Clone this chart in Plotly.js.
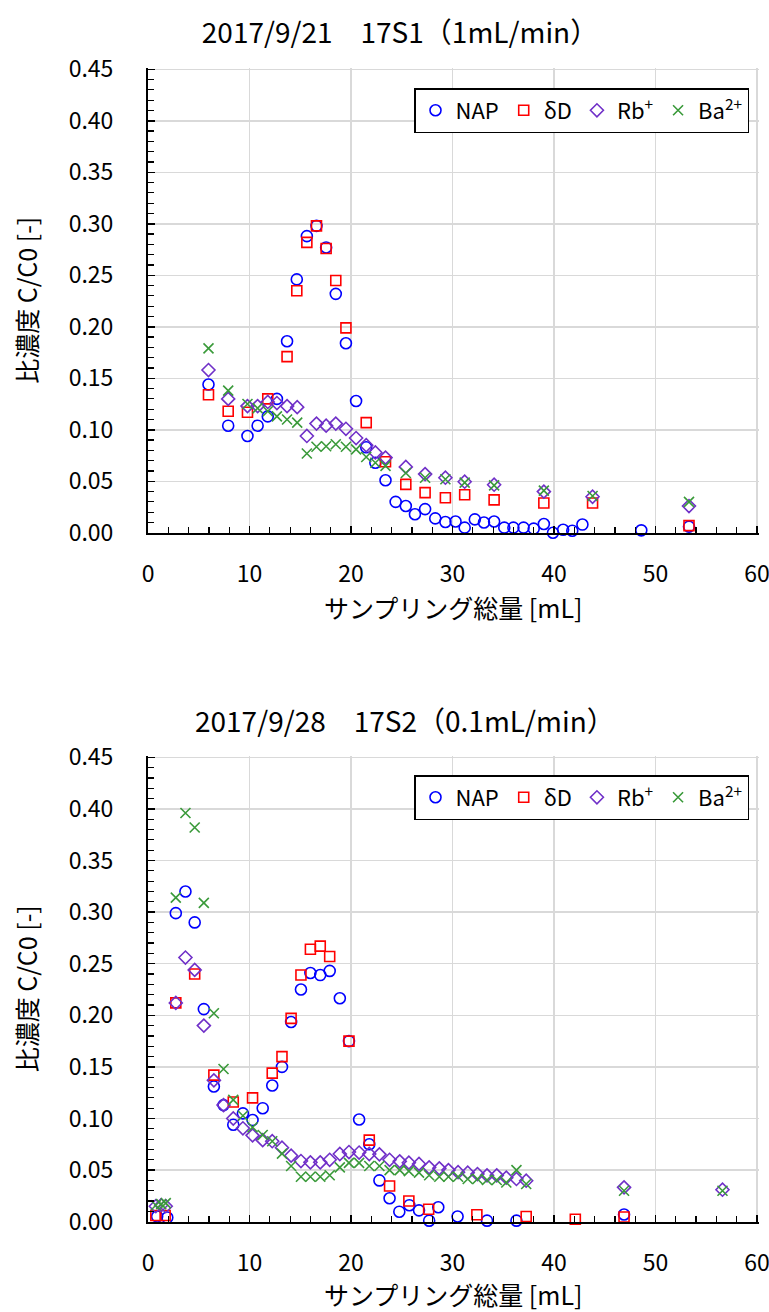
<!DOCTYPE html>
<html>
<head>
<meta charset="utf-8">
<script src="https://cdn.plot.ly/plotly-3.0.1.min.js"></script>
<style>html,body{margin:0;padding:0;background:#fff;}#chart{width:769px;height:1312px;}</style>
</head>
<body>
<div id="chart"></div>
<script>
// ---------- Chart 1: 2017/9/21 17S1 (1mL/min) ----------
const s1_nap_x = [5.96, 7.9, 9.8, 10.8, 11.8, 12.7, 13.7, 14.66, 15.65, 16.6, 17.55, 18.5, 19.5, 20.5, 21.5, 22.4, 23.4, 24.4, 25.4, 26.3, 27.3, 28.3, 29.3, 30.3, 31.2, 32.2, 33.1, 34.1, 35.1, 36.0, 37.0, 38.0, 39.0, 39.9, 40.9, 41.8, 42.8, 48.6, 53.3];
const s1_nap_y = [0.144, 0.104, 0.094, 0.104, 0.113, 0.130, 0.186, 0.246, 0.288, 0.298, 0.277, 0.232, 0.184, 0.128, 0.083, 0.068, 0.051, 0.030, 0.026, 0.018, 0.023, 0.014, 0.0105, 0.011, 0.005, 0.013, 0.010, 0.011, 0.005, 0.005, 0.005, 0.004, 0.0085, 0.0, 0.003, 0.002, 0.008, 0.0024, 0.006];
const s1_dd_x = [5.96, 7.9, 9.8, 11.8, 13.7, 14.66, 15.65, 16.6, 17.55, 18.5, 19.5, 21.5, 23.4, 25.4, 27.3, 29.3, 31.2, 34.1, 39.0, 43.8, 53.3];
const s1_dd_y = [0.134, 0.118, 0.117, 0.130, 0.171, 0.235, 0.282, 0.298, 0.276, 0.245, 0.199, 0.107, 0.069, 0.047, 0.039, 0.034, 0.037, 0.032, 0.029, 0.029, 0.007];
const s1_ion_x = [5.96, 7.9, 9.8, 10.8, 11.8, 12.7, 13.7, 14.7, 15.65, 16.6, 17.55, 18.5, 19.5, 20.5, 21.5, 22.4, 23.4, 25.4, 27.3, 29.3, 31.2, 34.1, 39.0, 43.8, 53.3];
const s1_rb_y = [0.158, 0.130, 0.123, 0.123, 0.127, 0.126, 0.123, 0.122, 0.094, 0.106, 0.104, 0.106, 0.101, 0.092, 0.085, 0.078, 0.073, 0.064, 0.057, 0.0535, 0.0496, 0.0467, 0.040, 0.035, 0.026];
const s1_ba_y = [0.179, 0.138, 0.125, 0.121, 0.118, 0.113, 0.110, 0.107, 0.077, 0.0836, 0.084, 0.086, 0.0836, 0.081, 0.0736, 0.068, 0.065, 0.058, 0.0535, 0.052, 0.0487, 0.046, 0.041, 0.0357, 0.030];

// ---------- Chart 2: 2017/9/28 17S2 (0.1mL/min) ----------
const s2_nap_x = [0.9, 1.9, 2.74, 3.69, 4.6, 5.5, 6.49, 7.44, 8.4, 9.35, 10.3, 11.3, 12.24, 13.2, 14.1, 15.07, 16.0, 16.97, 17.9, 18.9, 19.8, 20.8, 21.8, 22.8, 23.8, 24.76, 25.75, 26.7, 27.7, 28.6, 30.5, 33.4, 36.3, 46.9];
const s2_nap_y = [0.005, 0.004, 0.299, 0.320, 0.290, 0.206, 0.131, 0.113, 0.094, 0.105, 0.0985, 0.110, 0.132, 0.150, 0.1935, 0.225, 0.241, 0.239, 0.243, 0.2165, 0.175, 0.099, 0.075, 0.040, 0.0227, 0.0097, 0.016, 0.011, 0.001, 0.014, 0.005, 0.001, 0.001, 0.007];
const s2_dd_x = [0.77, 1.69, 2.74, 4.6, 6.49, 8.4, 10.3, 12.24, 13.2, 14.1, 15.07, 16.0, 16.97, 17.9, 19.8, 21.8, 23.8, 25.7, 27.65, 32.4, 37.26, 42.1, 46.9];
const s2_dd_y = [0.006, 0.006, 0.212, 0.240, 0.142, 0.116, 0.120, 0.144, 0.160, 0.197, 0.239, 0.264, 0.267, 0.257, 0.175, 0.079, 0.0346, 0.020, 0.012, 0.0068, 0.005, 0.0023, 0.0046];
const s2_ion_x = [0.77, 1.3, 1.75, 2.74, 3.69, 4.6, 5.5, 6.49, 7.44, 8.4, 9.35, 10.3, 11.3, 12.24, 13.2, 14.1, 15.07, 16.0, 16.97, 17.9, 18.9, 19.8, 20.8, 21.8, 22.8, 23.8, 24.8, 25.7, 26.7, 27.7, 28.7, 29.6, 30.55, 31.5, 32.46, 33.4, 34.36, 35.3, 36.3, 37.26, 46.9, 56.6];
const s2_rb_y = [0.015, 0.016, 0.015, 0.212, 0.256, 0.244, 0.190, 0.137, 0.113, 0.100, 0.0905, 0.0837, 0.079, 0.078, 0.0717, 0.064, 0.0588, 0.0575, 0.0575, 0.060, 0.0656, 0.0675, 0.067, 0.0656, 0.0653, 0.060, 0.0585, 0.0572, 0.056, 0.0527, 0.0517, 0.050, 0.048, 0.0475, 0.0462, 0.0449, 0.0449, 0.0427, 0.0414, 0.0397, 0.0333, 0.031];
const s2_ba_y = [0.016, 0.017, 0.018, 0.314, 0.396, 0.382, 0.309, 0.202, 0.148, 0.118, 0.1027, 0.0915, 0.084, 0.078, 0.066, 0.054, 0.0436, 0.0436, 0.0436, 0.045, 0.0527, 0.057, 0.057, 0.054, 0.054, 0.050, 0.050, 0.049, 0.0475, 0.045, 0.0436, 0.0436, 0.0436, 0.0414, 0.0414, 0.0404, 0.0404, 0.038, 0.050, 0.0365, 0.030, 0.030];

const seriesNames = ['NAP', 'δD', 'Rb<sup>+</sup>', 'Ba<sup>2+</sup>'];
const chartTitles = ['2017/9/21\u300017S1（1mL/min）', '2017/9/28\u300017S2（0.1mL/min）'];
const xTitle = 'サンプリング総量 [mL]';
const yTitle = '比濃度 C/C0 [-]';
const xTickVals = [0, 10, 20, 30, 40, 50, 60];

const FONT = "'Noto Sans CJK JP', 'Noto Sans', sans-serif";
const colors = ['#0000FF', '#FF0000', '#7030C8', '#3A9A3A'];
const symbols = ['circle-open', 'square-open', 'diamond-open', 'x-thin-open'];
const sizes = [11, 10, 10, 10];

function mk(x, y, i, xa, ya, leg) {
  return {
    type: 'scatter', mode: 'markers', x: x, y: y, name: seriesNames[i],
    xaxis: xa, yaxis: ya, legend: leg, cliponaxis: false,
    marker: {symbol: symbols[i], size: sizes[i], color: colors[i],
             line: {color: colors[i], width: 1.6}}
  };
}

const data = [
  mk(s1_nap_x, s1_nap_y, 0, 'x', 'y', 'legend'),
  mk(s1_dd_x, s1_dd_y, 1, 'x', 'y', 'legend'),
  mk(s1_ion_x, s1_rb_y, 2, 'x', 'y', 'legend'),
  mk(s1_ion_x, s1_ba_y, 3, 'x', 'y', 'legend'),
  mk(s2_nap_x, s2_nap_y, 0, 'x2', 'y2', 'legend2'),
  mk(s2_dd_x, s2_dd_y, 1, 'x2', 'y2', 'legend2'),
  mk(s2_ion_x, s2_rb_y, 2, 'x2', 'y2', 'legend2'),
  mk(s2_ion_x, s2_ba_y, 3, 'x2', 'y2', 'legend2')
];

const W = 769, H = 1312;
// small padding beyond 60 / 0.45 so the last grid lines are kept
const XMAX = 60.15, YMAX = 0.4515;
const xDom = [148 / W, (148 + 609 * XMAX / 60) / W];
function yDom(top, bottom) {
  const t = bottom - (bottom - top) * YMAX / 0.45;
  return [1 - bottom / H, 1 - t / H];
}

function xAxis(anchor) {
  return {
    anchor: anchor, domain: xDom, range: [0, XMAX],
    tickmode: 'array', tickvals: xTickVals, ticktext: xTickVals.map(String),
    ticklabeloverflow: 'allow',
    ticks: 'inside', ticklen: 7, tickwidth: 1.5, tickcolor: '#000',
    minor: {tickmode: 'linear', tick0: 0, dtick: 2, ticks: 'inside', ticklen: 6, tickwidth: 1.2, tickcolor: '#000', showgrid: false},
    showgrid: true, gridcolor: '#d9d9d9', gridwidth: 1.5,
    showline: true, linecolor: '#000', linewidth: 2, zeroline: false,
    ticklabelstandoff: 20,
    tickfont: {family: FONT, size: 23, color: '#000'},
    title: {text: xTitle, font: {family: FONT, size: 25, color: '#000'}, standoff: 8}
  };
}
function yAxis(anchor, dom) {
  return {
    anchor: anchor, domain: dom, range: [0, YMAX], dtick: 0.05, tick0: 0,
    tickformat: '.2f', ticklabeloverflow: 'allow',
    ticks: 'inside', ticklen: 7, tickwidth: 1.5, tickcolor: '#000',
    minor: {dtick: 0.01, ticks: 'inside', ticklen: 6, tickwidth: 1.2, tickcolor: '#000', showgrid: false},
    showgrid: true, gridcolor: '#d9d9d9', gridwidth: 1.5,
    showline: true, linecolor: '#000', linewidth: 2, zeroline: false,
    ticklabelstandoff: 28,
    tickfont: {family: FONT, size: 23, color: '#000'},
    title: {text: yTitle, font: {family: FONT, size: 25, color: '#000'}, standoff: 24}
  };
}
function legendCfg(topPx) {
  return {
    orientation: 'h', x: 414 / W, y: 1 - topPx / H, xanchor: 'left', yanchor: 'top',
    bgcolor: '#fff', bordercolor: '#000', borderwidth: 1.5,
    font: {family: FONT, size: 22, color: '#000'},
    itemwidth: 30, tracegroupgap: 0
  };
}

const layout = {
  width: W, height: H, margin: {l: 0, r: 0, t: 0, b: 0},
  paper_bgcolor: '#fff', plot_bgcolor: '#fff',
  font: {family: FONT, color: '#000'},
  showlegend: true,
  title: {text: chartTitles[0], x: 400 / W, xref: 'paper', xanchor: 'center',
          y: 1 - 33 / H, yref: 'paper', yanchor: 'middle',
          font: {family: FONT, size: 28, color: '#000'}},
  xaxis: xAxis('y'),
  yaxis: yAxis('x', yDom(69.3, 532.8)),
  xaxis2: xAxis('y2'),
  yaxis2: yAxis('x2', yDom(757.3, 1221.7)),
  legend: legendCfg(88),
  legend2: legendCfg(775),
  annotations: [{
    text: chartTitles[1], xref: 'paper', yref: 'paper', x: 405 / W, y: 1 - 720 / H,
    xanchor: 'center', yanchor: 'middle', showarrow: false,
    font: {family: FONT, size: 28, color: '#000'}
  }]
};

Plotly.newPlot('chart', data, layout, {displayModeBar: false, staticPlot: true});
</script>
</body>
</html>
